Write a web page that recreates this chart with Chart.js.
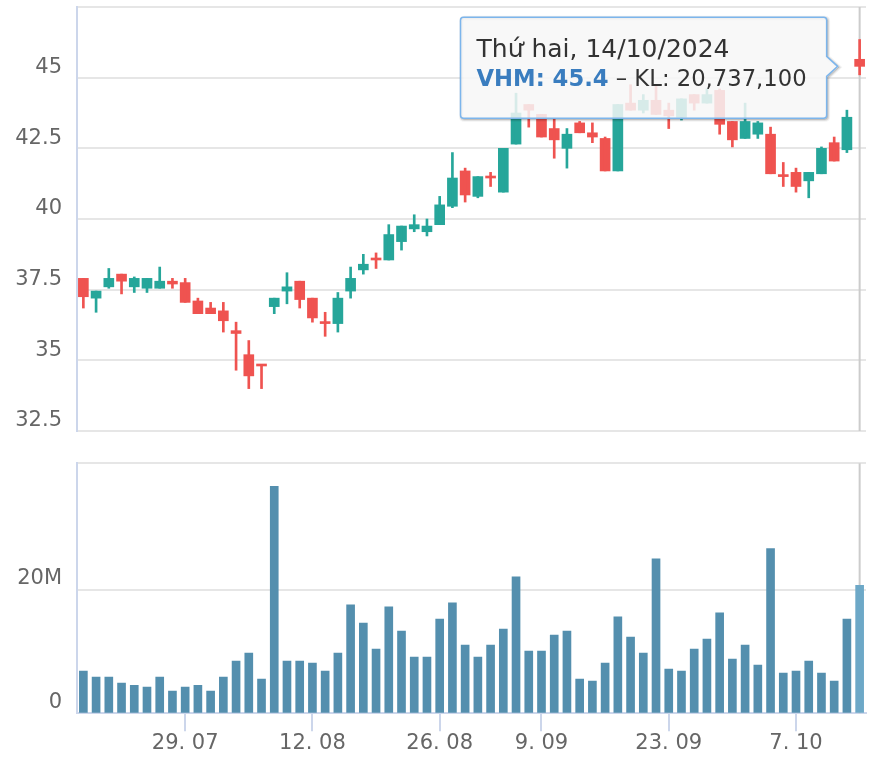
<!DOCTYPE html>
<html>
<head>
<meta charset="utf-8">
<script src="https://cdn.jsdelivr.net/npm/chart.js@4.4.1/dist/chart.umd.min.js"></script>
<style>
    html, body { margin: 0; padding: 0; background: #ffffff; }
    #wrap { position: relative; width: 888px; height: 766px; }
    #priceBox { position: absolute; left: 0; top: 0; width: 888px; height: 440px; }
    #volumeBox { position: absolute; left: 0; top: 440px; width: 888px; height: 326px; }
</style>
</head>
<body>
<div id="wrap">
    <div id="priceBox"><canvas id="priceChart"></canvas></div>
    <div id="volumeBox"><canvas id="volumeChart"></canvas></div>
</div>
<script>
// phiên giao dịch VHM, 17/07/2024 - 14/10/2024
const dates = [
    '2024-07-17', '2024-07-18', '2024-07-19', '2024-07-22', '2024-07-23', '2024-07-24', '2024-07-25', '2024-07-26', '2024-07-29', '2024-07-30',
    '2024-07-31', '2024-08-01', '2024-08-02', '2024-08-05', '2024-08-06', '2024-08-07', '2024-08-08', '2024-08-09', '2024-08-12', '2024-08-13',
    '2024-08-14', '2024-08-15', '2024-08-16', '2024-08-19', '2024-08-20', '2024-08-21', '2024-08-22', '2024-08-23', '2024-08-26', '2024-08-27',
    '2024-08-28', '2024-08-29', '2024-08-30', '2024-09-04', '2024-09-05', '2024-09-06', '2024-09-09', '2024-09-10', '2024-09-11', '2024-09-12',
    '2024-09-13', '2024-09-16', '2024-09-17', '2024-09-18', '2024-09-19', '2024-09-20', '2024-09-23', '2024-09-24', '2024-09-25', '2024-09-26',
    '2024-09-27', '2024-09-30', '2024-10-01', '2024-10-02', '2024-10-03', '2024-10-04', '2024-10-07', '2024-10-08', '2024-10-09', '2024-10-10',
    '2024-10-11', '2024-10-14'
];

const open = [
    37.90, 37.20, 37.60, 38.05, 37.60, 37.55, 37.55, 37.80, 37.75, 37.10,
    36.85, 36.75, 36.05, 35.20, 34.85, 36.90, 37.45, 37.80, 37.20, 36.35,
    36.30, 37.45, 38.20, 38.60, 38.55, 39.20, 39.65, 39.55, 39.80, 40.45,
    41.70, 40.80, 41.50, 40.95, 42.65, 44.05, 43.70, 43.20, 42.50, 43.40,
    43.05, 42.85, 41.70, 44.10, 43.85, 44.20, 43.85, 43.60, 44.40, 44.10,
    44.55, 43.45, 42.85, 43.00, 43.00, 41.55, 41.65, 41.35, 41.60, 42.70,
    42.45, 45.65
];
const high = [
    37.90, 37.45, 38.25, 38.05, 37.95, 37.90, 38.30, 37.90, 37.90, 37.20,
    37.05, 37.05, 36.35, 35.70, 34.85, 37.20, 38.10, 37.80, 37.20, 36.70,
    37.40, 38.30, 38.75, 38.80, 39.80, 39.75, 40.15, 40.00, 40.80, 42.35,
    41.80, 41.50, 41.65, 42.50, 44.45, 44.05, 43.70, 43.55, 43.20, 43.45,
    43.40, 42.90, 44.05, 44.75, 44.40, 44.75, 44.10, 44.25, 44.40, 44.60,
    44.60, 43.45, 44.10, 43.45, 43.25, 42.00, 41.80, 41.65, 42.55, 42.90,
    43.85, 46.35
];
const low = [
    36.85, 36.70, 37.55, 37.35, 37.40, 37.40, 37.55, 37.55, 37.05, 36.65,
    36.65, 36.00, 34.65, 34.00, 34.00, 36.65, 37.00, 36.85, 36.35, 35.85,
    36.00, 37.20, 38.05, 38.25, 38.55, 38.90, 39.55, 39.40, 39.80, 40.40,
    40.60, 40.75, 41.15, 40.95, 42.65, 43.25, 42.90, 42.15, 41.80, 43.05,
    42.70, 41.70, 41.70, 43.85, 43.75, 43.70, 43.20, 43.50, 43.85, 44.10,
    43.00, 42.55, 42.85, 42.85, 41.60, 41.15, 40.95, 40.75, 41.60, 42.05,
    42.35, 45.10
];
const close = [
    37.25, 37.45, 37.90, 37.80, 37.90, 37.90, 37.80, 37.70, 37.05, 36.65,
    36.65, 36.40, 35.95, 34.45, 34.80, 37.20, 37.60, 37.15, 36.50, 36.30,
    37.20, 37.90, 38.40, 38.55, 39.45, 39.75, 39.80, 39.75, 40.50, 41.45,
    40.85, 41.50, 41.45, 42.50, 43.75, 43.85, 42.90, 42.80, 43.00, 43.05,
    42.90, 41.70, 44.05, 43.85, 44.20, 43.70, 43.65, 44.25, 44.10, 44.40,
    43.35, 42.80, 43.45, 43.40, 41.60, 41.50, 41.15, 41.65, 42.50, 42.05,
    43.60, 45.40
];
// khối lượng, triệu cổ phiếu
const volumeM = [
    6.83, 5.85, 5.85, 4.88, 4.55, 4.23, 5.85, 3.58, 4.23, 4.55,
    3.58, 5.85, 8.46, 9.76, 5.53, 36.75, 8.46, 8.46, 8.13, 6.83,
    9.76, 17.56, 14.63, 10.41, 17.24, 13.33, 9.11, 9.11, 15.28, 17.89,
    11.06, 9.11, 11.06, 13.66, 22.11, 10.08, 10.08, 12.68, 13.33, 5.53,
    5.20, 8.13, 15.61, 12.36, 9.76, 25.04, 7.15, 6.83, 10.41, 12.03,
    16.26, 8.78, 11.06, 7.80, 26.67, 6.50, 6.83, 8.46, 6.50, 5.20,
    15.28, 20.7371
];

const xTickDates = ['2024-07-29', '2024-08-12', '2024-08-26', '2024-09-09', '2024-09-23', '2024-10-07'];
const weekdays = ['Chủ nhật', 'Thứ hai', 'Thứ ba', 'Thứ tư', 'Thứ năm', 'Thứ sáu', 'Thứ bảy'];
const symbol = 'VHM';

const UP = '#26a69a';
const DOWN = '#ef5350';
const VOL_COLOR = '#548fae';
const VOL_HOVER = '#6da8c7';
const GRID = '#e6e6e6';
const AXIS = '#ccd6eb';

Chart.defaults.font.family = "'DejaVu Sans', sans-serif";
Chart.defaults.font.size = 21;
Chart.defaults.color = '#666666';

const last = dates.length - 1;
const candleColors = close.map(function (c, i) { return c >= open[i] ? UP : DOWN; });

function fixYAxis(scale) {
    scale.width = 77;
    scale.paddingTop = 0;
    scale.paddingBottom = 0;
}

// đường dọc tại phiên cuối
const crosshair = {
    id: 'crosshair',
    beforeDatasetsDraw(chart) {
        const ctx = chart.ctx;
        const area = chart.chartArea;
        const x = chart.scales.x.getPixelForValue(last);
        ctx.save();
        ctx.strokeStyle = '#cccccc';
        ctx.lineWidth = 2;
        ctx.beginPath();
        ctx.moveTo(x, area.top);
        ctx.lineTo(x, area.bottom);
        ctx.stroke();
        ctx.restore();
    }
};

// tooltip kiểu Highcharts cho phiên cuối
const lastTooltip = {
    id: 'lastTooltip',
    afterDraw(chart) {
        const ctx = chart.ctx;
        const px = chart.scales.x.getPixelForValue(last);
        const py = chart.scales.y.getPixelForValue(close[last]);

        const d = new Date(dates[last] + 'T00:00:00');
        const parts = dates[last].split('-');
        const title = weekdays[d.getDay()] + ', ' + parts[2] + '/' + parts[1] + '/' + parts[0];
        const part1 = symbol + ': ' + close[last];
        const part2 = ' – KL: ' + Math.round(volumeM[last] * 1e6).toLocaleString('en-US');

        ctx.save();
        const titleFont = "25px 'DejaVu Sans', sans-serif";
        const boldFont = "bold 22.7px 'DejaVu Sans', sans-serif";
        const bodyFont = "22.7px 'DejaVu Sans', sans-serif";
        ctx.font = titleFont;
        const w1 = ctx.measureText(title).width;
        ctx.font = boldFont;
        const wa = ctx.measureText(part1).width;
        ctx.font = bodyFont;
        const wb = ctx.measureText(part2).width;
        const textW = Math.max(w1, wa + wb);

        const tipX = px - 22;
        const tipY = py;
        const right = tipX - 11;
        const left = right - textW - 36;
        const top = tipY - 49;
        const bottom = top + 101;
        const r = 3;

        function path(dx, dy) {
            ctx.beginPath();
            ctx.moveTo(left + r + dx, top + dy);
            ctx.lineTo(right - r + dx, top + dy);
            ctx.quadraticCurveTo(right + dx, top + dy, right + dx, top + r + dy);
            ctx.lineTo(right + dx, tipY - 10 + dy);
            ctx.lineTo(tipX + dx, tipY + dy);
            ctx.lineTo(right + dx, tipY + 10 + dy);
            ctx.lineTo(right + dx, bottom - r + dy);
            ctx.quadraticCurveTo(right + dx, bottom + dy, right - r + dx, bottom + dy);
            ctx.lineTo(left + r + dx, bottom + dy);
            ctx.quadraticCurveTo(left + dx, bottom + dy, left + dx, bottom - r + dy);
            ctx.lineTo(left + dx, top + r + dy);
            ctx.quadraticCurveTo(left + dx, top + dy, left + r + dx, top + dy);
            ctx.closePath();
        }

        [[5, 0.05], [3, 0.10], [1, 0.15]].forEach(function (s) {
            path(1, 1);
            ctx.lineWidth = s[0];
            ctx.strokeStyle = 'rgba(0, 0, 0, ' + s[1] + ')';
            ctx.stroke();
        });

        path(0, 0);
        ctx.fillStyle = 'rgba(247, 247, 247, 0.85)';
        ctx.fill();
        ctx.lineWidth = 1.5;
        ctx.strokeStyle = '#7cb5ec';
        ctx.stroke();

        const tx = left + 16;
        ctx.textBaseline = 'alphabetic';
        ctx.textAlign = 'left';
        ctx.font = titleFont;
        ctx.fillStyle = '#333333';
        ctx.fillText(title, tx, top + 39.5);
        ctx.font = boldFont;
        ctx.fillStyle = '#3a7dbf';
        ctx.fillText(part1, tx, top + 69);
        ctx.font = bodyFont;
        ctx.fillStyle = '#333333';
        ctx.fillText(part2, tx + wa, top + 69);
        ctx.restore();
    }
};

new Chart(document.getElementById('priceChart').getContext('2d'), {
    type: 'bar',
    data: {
        labels: dates,
        datasets: [{
            label: 'wick',
            data: low.map(function (l, i) { return [l, high[i]]; }),
            backgroundColor: candleColors,
            barThickness: 2,
            grouped: false,
            borderWidth: 0
        }, {
            label: symbol,
            data: open.map(function (o, i) { return [Math.min(o, close[i]), Math.max(o, close[i])]; }),
            backgroundColor: candleColors,
            barThickness: 10,
            minBarLength: 2,
            grouped: false,
            borderWidth: 0
        }]
    },
    options: {
        responsive: true,
        maintainAspectRatio: false,
        animation: false,
        layout: { padding: { left: 0, right: 22, top: 7, bottom: 9 } },
        plugins: {
            legend: { display: false },
            tooltip: { enabled: false }
        },
        scales: {
            x: {
                type: 'category',
                offset: true,
                display: false
            },
            y: {
                min: 32.5,
                max: 47.5,
                afterFit: fixYAxis,
                border: { color: AXIS, width: 2 },
                grid: { color: GRID, lineWidth: 2, drawTicks: false },
                ticks: {
                    stepSize: 2.5,
                    padding: 15,
                    labelOffset: -10,
                    callback: function (value, index, ticks) {
                        return index === ticks.length - 1 ? '' : value;
                    }
                }
            }
        }
    },
    plugins: [crosshair, lastTooltip]
});

new Chart(document.getElementById('volumeChart').getContext('2d'), {
    type: 'bar',
    data: {
        labels: dates,
        datasets: [{
            label: 'KL',
            data: volumeM,
            backgroundColor: volumeM.map(function (v, i) { return i === last ? VOL_HOVER : VOL_COLOR; }),
            barThickness: 8,
            borderWidth: 0
        }]
    },
    options: {
        responsive: true,
        maintainAspectRatio: false,
        animation: false,
        layout: { padding: { left: 0, right: 22, top: 23.3, bottom: 0 } },
        plugins: {
            legend: { display: false },
            tooltip: { enabled: false }
        },
        scales: {
            x: {
                type: 'category',
                offset: true,
                afterBuildTicks: function (scale) {
                    scale.ticks = scale.ticks.filter(function (t) { return xTickDates.indexOf(dates[t.value]) !== -1; });
                },
                afterFit: function (scale) {
                    scale.height = 52.7;
                    scale.paddingLeft = 0;
                    scale.paddingRight = 0;
                },
                border: { color: AXIS, width: 2 },
                grid: { offset: false, drawOnChartArea: false, drawTicks: true, tickLength: 18, color: AXIS, lineWidth: 2 },
                ticks: {
                    autoSkip: false,
                    maxRotation: 0,
                    padding: 0,
                    callback: function (value) {
                        const p = dates[value].split('-');
                        return parseInt(p[2], 10) + '. ' + p[1];
                    }
                }
            },
            y: {
                min: 0,
                max: 40.5,
                afterFit: fixYAxis,
                border: { color: AXIS, width: 2 },
                grid: {
                    drawTicks: false,
                    lineWidth: 2,
                    color: function (ctx) {
                        return ctx.tick && ctx.tick.value === 40 ? 'rgba(0,0,0,0)' : GRID;
                    }
                },
                ticks: {
                    stepSize: 20,
                    padding: 15,
                    labelOffset: -11,
                    callback: function (value) {
                        if (value === 0) return '0';
                        return value === 20 ? '20M' : '';
                    }
                }
            }
        }
    },
    plugins: [crosshair]
});
</script>
</body>
</html>
